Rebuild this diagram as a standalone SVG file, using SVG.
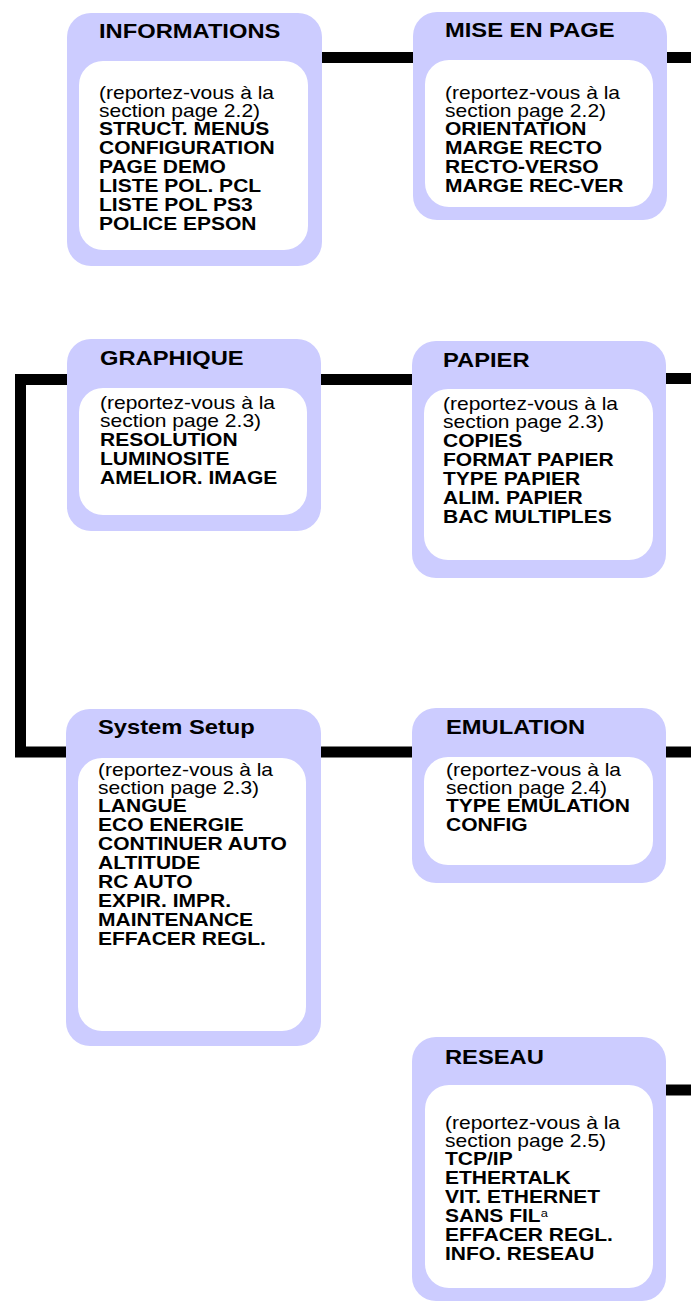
<svg xmlns="http://www.w3.org/2000/svg" width="691" height="1303" viewBox="0 0 691 1303">
<style>
.outer{fill:#CCCCFF}
.inner{fill:#FFFFFF}
.t{font-family:"Liberation Sans",Arial,Helvetica,sans-serif;font-size:21px;font-weight:bold;fill:#000}
.body{font-family:"Liberation Sans",Arial,Helvetica,sans-serif;font-size:18px;fill:#000}
.b{font-weight:bold}
.conn{fill:none;stroke:#000;stroke-width:11;stroke-linejoin:miter;stroke-linecap:butt}
</style>
<rect width="691" height="1303" fill="#FFFFFF"/>
<g id="connectors">
<path class="conn" d="M322 57.5H413"/>
<path class="conn" d="M667 57.5H691"/>
<path class="conn" d="M67 379.5H20.5V752H66"/>
<path class="conn" d="M321 379.5H412"/>
<path class="conn" d="M666 378.5H691"/>
<path class="conn" d="M321 752H412"/>
<path class="conn" d="M666 752H691"/>
<path class="conn" d="M666 1090H691"/>
</g>
<g id="informations">
<rect class="outer" x="67" y="13" width="255" height="253" rx="24"/>
<rect class="inner" x="79" y="61" width="229" height="189" rx="24"/>
<text class="t" transform="translate(99 38) scale(1.13 1)">INFORMATIONS</text>
<text class="body" transform="translate(99 0) scale(1.167 1)"><tspan x="0" y="99">(reportez-vous à la</tspan><tspan x="0" y="117">section page 2.2)</tspan><tspan class="b" x="0" y="135.5">STRUCT. MENUS</tspan><tspan class="b" x="0" y="154.5">CONFIGURATION</tspan><tspan class="b" x="0" y="173.5">PAGE DEMO</tspan><tspan class="b" x="0" y="192.5">LISTE POL. PCL</tspan><tspan class="b" x="0" y="211.5">LISTE POL PS3</tspan><tspan class="b" x="0" y="230.5">POLICE EPSON</tspan></text>
</g>
<g id="mise-en-page">
<rect class="outer" x="413" y="12" width="254" height="208" rx="24"/>
<rect class="inner" x="425" y="60" width="228" height="147" rx="24"/>
<text class="t" transform="translate(445 37) scale(1.13 1)">MISE EN PAGE</text>
<text class="body" transform="translate(445 0) scale(1.167 1)"><tspan x="0" y="99">(reportez-vous à la</tspan><tspan x="0" y="117">section page 2.2)</tspan><tspan class="b" x="0" y="135.5">ORIENTATION</tspan><tspan class="b" x="0" y="154.5">MARGE RECTO</tspan><tspan class="b" x="0" y="173.5">RECTO-VERSO</tspan><tspan class="b" x="0" y="192.5">MARGE REC-VER</tspan></text>
</g>
<g id="graphique">
<rect class="outer" x="67" y="339" width="254" height="192" rx="24"/>
<rect class="inner" x="79" y="388" width="228" height="127" rx="24"/>
<text class="t" transform="translate(100 365) scale(1.13 1)">GRAPHIQUE</text>
<text class="body" transform="translate(100 0) scale(1.167 1)"><tspan x="0" y="409">(reportez-vous à la</tspan><tspan x="0" y="427">section page 2.3)</tspan><tspan class="b" x="0" y="446">RESOLUTION</tspan><tspan class="b" x="0" y="465">LUMINOSITE</tspan><tspan class="b" x="0" y="484">AMELIOR. IMAGE</tspan></text>
</g>
<g id="papier">
<rect class="outer" x="412" y="341" width="254" height="237" rx="24"/>
<rect class="inner" x="424" y="389" width="229" height="171" rx="24"/>
<text class="t" transform="translate(443 367) scale(1.13 1)">PAPIER</text>
<text class="body" transform="translate(443 0) scale(1.167 1)"><tspan x="0" y="410">(reportez-vous à la</tspan><tspan x="0" y="428">section page 2.3)</tspan><tspan class="b" x="0" y="447">COPIES</tspan><tspan class="b" x="0" y="466">FORMAT PAPIER</tspan><tspan class="b" x="0" y="485">TYPE PAPIER</tspan><tspan class="b" x="0" y="504">ALIM. PAPIER</tspan><tspan class="b" x="0" y="523">BAC MULTIPLES</tspan></text>
</g>
<g id="system-setup">
<rect class="outer" x="66" y="709" width="255" height="337" rx="24"/>
<rect class="inner" x="78" y="758" width="228" height="273" rx="24"/>
<text class="t" transform="translate(98 734) scale(1.13 1)">System Setup</text>
<text class="body" transform="translate(98 0) scale(1.167 1)"><tspan x="0" y="776">(reportez-vous à la</tspan><tspan x="0" y="794">section page 2.3)</tspan><tspan class="b" x="0" y="812">LANGUE</tspan><tspan class="b" x="0" y="831">ECO ENERGIE</tspan><tspan class="b" x="0" y="850">CONTINUER AUTO</tspan><tspan class="b" x="0" y="869">ALTITUDE</tspan><tspan class="b" x="0" y="888">RC AUTO</tspan><tspan class="b" x="0" y="907">EXPIR. IMPR.</tspan><tspan class="b" x="0" y="926">MAINTENANCE</tspan><tspan class="b" x="0" y="945">EFFACER REGL.</tspan></text>
</g>
<g id="emulation">
<rect class="outer" x="412" y="708" width="254" height="175" rx="24"/>
<rect class="inner" x="424" y="757" width="229" height="108" rx="24"/>
<text class="t" transform="translate(446 734) scale(1.13 1)">EMULATION</text>
<text class="body" transform="translate(446 0) scale(1.167 1)"><tspan x="0" y="776">(reportez-vous à la</tspan><tspan x="0" y="794">section page 2.4)</tspan><tspan class="b" x="0" y="812">TYPE EMULATION</tspan><tspan class="b" x="0" y="831">CONFIG</tspan></text>
</g>
<g id="reseau">
<rect class="outer" x="412" y="1037" width="254" height="264" rx="24"/>
<rect class="inner" x="425" y="1085" width="228" height="203" rx="24"/>
<text class="t" transform="translate(445 1064) scale(1.13 1)">RESEAU</text>
<text class="body" transform="translate(445 0) scale(1.167 1)"><tspan x="0" y="1129">(reportez-vous à la</tspan><tspan x="0" y="1147">section page 2.5)</tspan><tspan class="b" x="0" y="1165.5">TCP/IP</tspan><tspan class="b" x="0" y="1184.5">ETHERTALK</tspan><tspan class="b" x="0" y="1203.5">VIT. ETHERNET</tspan><tspan class="b" x="0" y="1222.5">SANS FIL</tspan><tspan font-size="11" dy="-5">a</tspan><tspan class="b" x="0" y="1241.5">EFFACER REGL.</tspan><tspan class="b" x="0" y="1260.5">INFO. RESEAU</tspan></text>
</g>
</svg>
